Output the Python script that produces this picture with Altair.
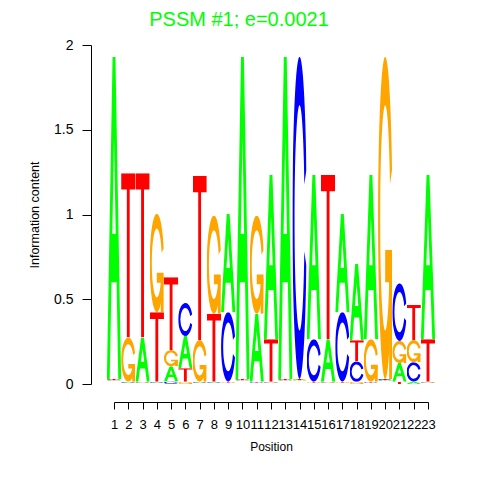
import altair as alt
import pandas as pd
from urllib.parse import quote

positions = list(range(1, 24))
letters = ["A", "C", "G", "T"]
height_A = [1.90, 0.007, 0.26, 0.007, 0.09, 0.19, 0.007, 0.007, 0.58, 1.90, 0.40, 0.97,
            1.90, 0.01, 0.97, 0.25, 0.58, 0.45, 0.97, 0.01, 0.11, 0.014, 0.97]
height_C = [0.01, 0.007, 0.007, 0.007, 0.015, 0.195, 0.007, 0.007, 0.41, 0.01, 0.007, 0.007,
            0.01, 1.90, 0.25, 0.007, 0.41, 0.12, 0.007, 0.01, 0.34, 0.115, 0.007]
height_G = [0.01, 0.26, 0.007, 0.58, 0.095, 0.013, 0.245, 0.58, 0.007, 0.01, 0.58, 0.007,
            0.01, 0.01, 0.007, 0.007, 0.007, 0.013, 0.25, 1.90, 0.13, 0.13, 0.007]
height_T = [0.01, 0.97, 0.97, 0.41, 0.43, 0.08, 0.97, 0.40, 0.007, 0.01, 0.007, 0.25,
            0.01, 0.01, 0.007, 0.97, 0.007, 0.125, 0.007, 0.01, 0.014, 0.21, 0.25]
y_ticks = [0, 0.5, 1, 1.5, 2]
title_text = "PSSM #1; e=0.0021"

colors = {"A": "#00FF00", "C": "#0000FF", "G": "#FFA500", "T": "#FF0000"}

# letter glyph outlines in a 100x100 box (stretched to each cell)
RING = ("M97.77 35.22 A50 50 0 1 0 97.77 64.78 L83.44 60.34 "
        "A35 35 0 1 1 83.44 39.66 Z")
glyph_paths = {
    "A": ["M0 100 L40 0 L60 0 L100 100 L80 100 L68 70 L32 70 L20 100 Z "
          "M38 55 L50 25 L62 55 Z"],
    "C": [RING],
    "G": [RING, "M97.77 60 L50 60 L50 70 L77.77 70 L77.77 100 L97.77 100 Z"],
    "T": ["M0 0 L100 0 L100 10 L60 10 L60 100 L40 100 L40 10 L0 10 Z"],
}


def glyph_url(letter):
    body = "".join(
        f'<path d="{d}" fill="{colors[letter]}" fill-rule="evenodd"/>'
        for d in glyph_paths[letter])
    svg = ('<svg xmlns="http://www.w3.org/2000/svg" width="100" height="100" '
           'viewBox="0 0 100 100" preserveAspectRatio="none">' + body + '</svg>')
    return "data:image/svg+xml;charset=utf-8," + quote(svg)


urls = {l: glyph_url(l) for l in letters}
heights = {"A": height_A, "C": height_C, "G": height_G, "T": height_T}

rows = []
for i, p in enumerate(positions):
    for l in letters:
        rows.append({"pos": p, "letter": l, "h": heights[l][i], "url": urls[l]})
df = pd.DataFrame(rows)

FONT = "Liberation Sans"

chart = alt.Chart(df).transform_window(
    top="sum(h)", groupby=["pos"], sort=[alt.SortField("h")], frame=[None, 0]
).transform_calculate(
    bottom="datum.top - datum.h",
    x0="datum.pos - 0.5",
    x1="datum.pos + 0.5",
).mark_image(aspect=False).encode(
    x=alt.X("x0:Q", scale=alt.Scale(domain=[1, 23], nice=False, zero=False),
            axis=alt.Axis(values=positions, tickSize=7, offset=18, grid=False,
                          labelFontSize=13, labelPadding=9, labelFlush=False,
                          labelOverlap=False, titleFontSize=12, titlePadding=10,
                          titleFontWeight="normal", domainColor="black",
                          tickColor="black", labelColor="black", titleColor="black",
                          labelFont=FONT, titleFont=FONT),
            title="Position"),
    x2="x1:Q",
    y=alt.Y("bottom:Q", scale=alt.Scale(domain=[0, 2], nice=False, zero=True),
            axis=alt.Axis(values=y_ticks, format="~g", tickSize=9, offset=23,
                          grid=False, labelFontSize=14, labelPadding=9,
                          labelFlush=False, titleFontSize=12.5, titlePadding=12,
                          titleFontWeight="normal", domainColor="black",
                          tickColor="black", labelColor="black", titleColor="black",
                          labelFont=FONT, titleFont=FONT),
            title="Information content"),
    y2="top:Q",
    url="url:N",
).properties(
    width=314,
    height=339,
    title=alt.TitleParams(title_text, color="#00FF00", fontSize=20, font=FONT,
                          fontWeight="normal", anchor="middle", dx=-32,
                          offset=0, dy=8, baseline="alphabetic"),
    padding={"left": 106, "top": 37, "right": 44, "bottom": 88},
    autosize=alt.AutoSizeParams(type="none"),
).configure_view(stroke=None)

chart.save("out.html", embed_options={"renderer": "svg", "actions": False})
